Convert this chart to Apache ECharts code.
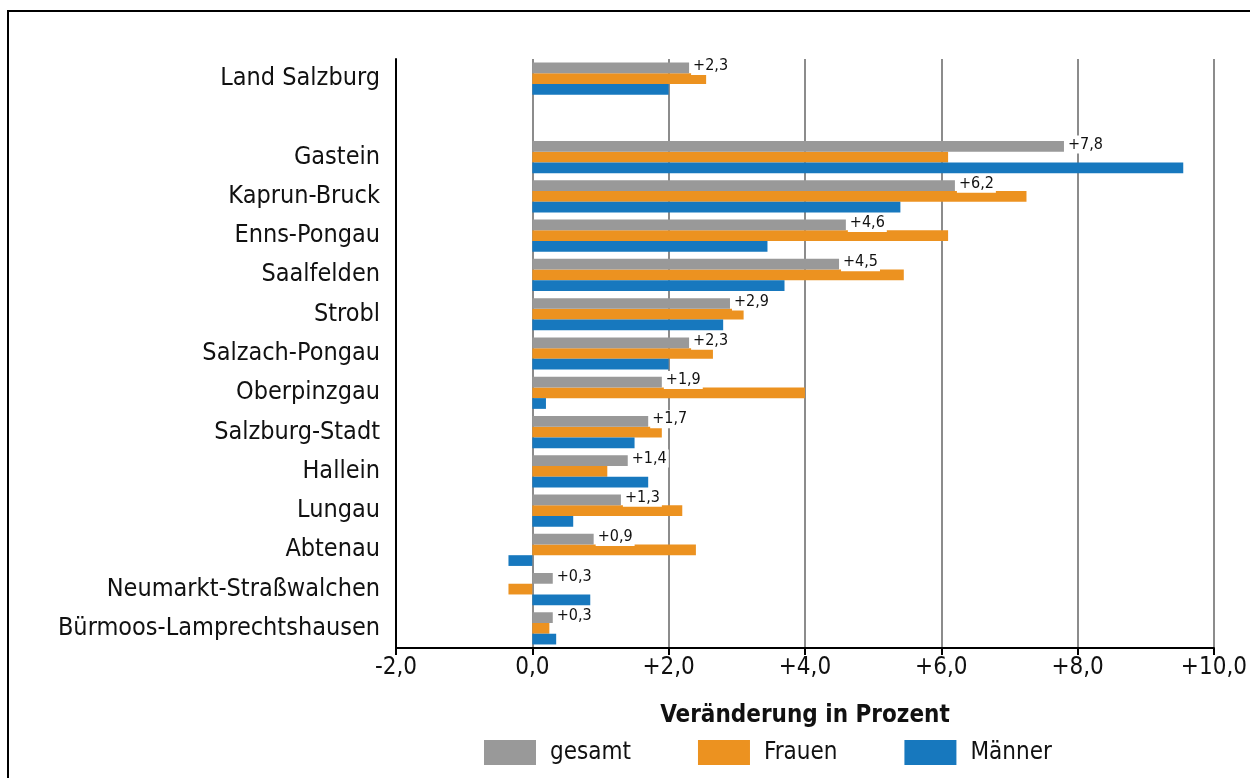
<!DOCTYPE html>
<html>
<head>
<meta charset="utf-8">
<script src="https://cdn.jsdelivr.net/npm/echarts@6/dist/echarts.min.js"></script>
<style>
    html, body { margin: 0; padding: 0; background: #fff; }
    #rahmen {
        position: absolute;
        left: 7px; top: 10px;
        width: 1300px; height: 800px;
        border-top: 2px solid #000;
        border-left: 2px solid #000;
    }
    #chart { position: absolute; left: 0; top: 0; width: 1250px; height: 778px; }
</style>
</head>
<body>
<div id="rahmen"></div>
<div id="chart"></div>
<script>
    // Regionen (leerer Eintrag = Abstand nach Land Salzburg)
    const regionen = ['Land Salzburg', '', 'Gastein', 'Kaprun-Bruck', 'Enns-Pongau', 'Saalfelden', 'Strobl',
        'Salzach-Pongau', 'Oberpinzgau', 'Salzburg-Stadt', 'Hallein', 'Lungau', 'Abtenau',
        'Neumarkt-Straßwalchen', 'Bürmoos-Lamprechtshausen'];
    // Veränderung in Prozent
    const gesamt = [2.3, null, 7.8, 6.2, 4.6, 4.5, 2.9, 2.3, 1.9, 1.7, 1.4, 1.3, 0.9, 0.3, 0.3];
    const frauen = [2.55, null, 6.1, 7.25, 6.1, 5.45, 3.1, 2.65, 4.0, 1.9, 1.1, 2.2, 2.4, -0.35, 0.25];
    const maenner = [2.0, null, 9.55, 5.4, 3.45, 3.7, 2.8, 2.0, 0.2, 1.5, 1.7, 0.6, -0.35, 0.85, 0.35];
    const legende = ['gesamt', 'Frauen', 'Männer'];

    const schrift = '"DejaVu Sans Condensed", "DejaVu Sans", sans-serif';
    function fmt(v) {
        const s = Math.abs(v).toFixed(1).replace('.', ',');
        if (v > 0) return '+' + s;
        if (v < 0) return '-' + s;
        return s;
    }

    const myChart = echarts.init(document.getElementById('chart'));
    const option = {
        animation: false,
        textStyle: { fontFamily: schrift },
        grid: { left: 396, right: 35, top: 59, bottom: 130 },
        legend: {
            data: legende,
            left: 479,
            top: 735,
            itemWidth: 52,
            itemHeight: 25,
            itemGap: 67,
            icon: 'rect',
            textStyle: { fontSize: 24, color: '#111', fontFamily: schrift, padding: [0, 0, 0, 9], width: 84 }
        },
        xAxis: {
            type: 'value',
            min: -2,
            max: 10,
            interval: 2,
            name: 'Veränderung in Prozent',
            nameLocation: 'middle',
            nameGap: 56,
            nameTextStyle: { fontSize: 24, fontWeight: 'bold', color: '#111', fontFamily: schrift },
            axisLine: { show: true, onZero: false, lineStyle: { color: '#000', width: 2 } },
            axisTick: { show: true, length: 7, lineStyle: { color: '#000', width: 2 } },
            axisLabel: { fontSize: 24, color: '#111', margin: 8, formatter: fmt },
            splitLine: { show: true, lineStyle: { color: '#8c8c8c', width: 2 } }
        },
        yAxis: {
            type: 'category',
            inverse: true,
            data: regionen,
            axisLine: { show: true, onZero: false, lineStyle: { color: '#000', width: 2 } },
            axisTick: { show: false },
            axisLabel: { fontSize: 25, color: '#111', margin: 16 }
        },
        series: [
            {
                name: 'gesamt', type: 'bar', data: gesamt,
                barGap: '0%', barCategoryGap: '18%',
                itemStyle: { color: '#999999' },
                z: 3,
                label: {
                    show: true, position: 'right', distance: 2,
                    formatter: (p) => fmt(p.value),
                    fontSize: 16, color: '#111',
                    backgroundColor: '#fff', padding: [1, 2, 1, 2],
                    offset: [0, -2]
                }
            },
            {
                name: 'Frauen', type: 'bar', data: frauen,
                barGap: '0%', barCategoryGap: '18%',
                itemStyle: { color: '#ec9220' }
            },
            {
                name: 'Männer', type: 'bar', data: maenner,
                barGap: '0%', barCategoryGap: '18%',
                itemStyle: { color: '#1778be' }
            }
        ]
    };
    myChart.setOption(option);
</script>
</body>
</html>
